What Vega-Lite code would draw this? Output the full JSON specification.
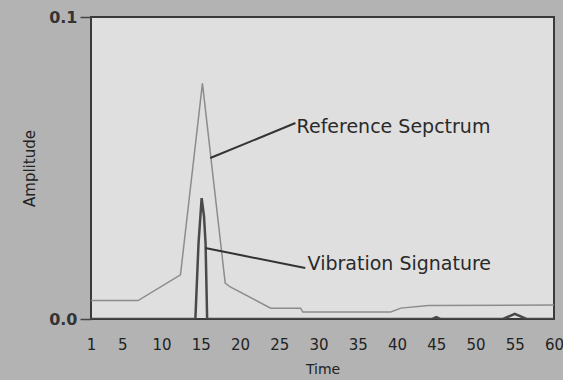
{
  "$schema": "https://vega.github.io/schema/vega-lite/v6.json",
  "width": 463,
  "height": 302,
  "autosize": {"type": "none"},
  "padding": {"left": 91, "top": 17, "right": 9, "bottom": 61},
  "background": "#b3b3b3",
  "config": {
    "view": {"fill": "#dfdfdf", "stroke": "#3a3a3a", "strokeWidth": 2},
    "font": "DejaVu Sans",
    "axis": {"grid": false, "domain": false, "labelColor": "#222222", "titleColor": "#222222", "labelFont": "DejaVu Sans", "titleFont": "DejaVu Sans", "titleFontWeight": "normal"}
  },
  "resolve": {"axis": {"x": "independent", "y": "independent"}},
  "datasets": {
    "spectra": [
      {"time": 1, "amplitude": 0.0061, "series": "Reference Sepctrum"},
      {"time": 7, "amplitude": 0.0061, "series": "Reference Sepctrum"},
      {"time": 12.4, "amplitude": 0.0146, "series": "Reference Sepctrum"},
      {"time": 15.2, "amplitude": 0.078, "series": "Reference Sepctrum"},
      {"time": 18.1, "amplitude": 0.0119, "series": "Reference Sepctrum"},
      {"time": 18.75, "amplitude": 0.0106, "series": "Reference Sepctrum"},
      {"time": 23.9, "amplitude": 0.0036, "series": "Reference Sepctrum"},
      {"time": 27.7, "amplitude": 0.0036, "series": "Reference Sepctrum"},
      {"time": 28, "amplitude": 0.0023, "series": "Reference Sepctrum"},
      {"time": 39.2, "amplitude": 0.0023, "series": "Reference Sepctrum"},
      {"time": 40.5, "amplitude": 0.0036, "series": "Reference Sepctrum"},
      {"time": 44, "amplitude": 0.0045, "series": "Reference Sepctrum"},
      {"time": 60, "amplitude": 0.0046, "series": "Reference Sepctrum"},
      {"time": 1, "amplitude": 0, "series": "Vibration Signature"},
      {"time": 14.3, "amplitude": 0, "series": "Vibration Signature"},
      {"time": 14.7, "amplitude": 0.025, "series": "Vibration Signature"},
      {"time": 15.1, "amplitude": 0.04, "series": "Vibration Signature"},
      {"time": 15.4, "amplitude": 0.034, "series": "Vibration Signature"},
      {"time": 15.6, "amplitude": 0.025, "series": "Vibration Signature"},
      {"time": 15.8, "amplitude": 0, "series": "Vibration Signature"},
      {"time": 44.5, "amplitude": 0, "series": "Vibration Signature"},
      {"time": 45, "amplitude": 0.0006, "series": "Vibration Signature"},
      {"time": 45.5, "amplitude": 0, "series": "Vibration Signature"},
      {"time": 53.5, "amplitude": 0, "series": "Vibration Signature"},
      {"time": 55, "amplitude": 0.0017, "series": "Vibration Signature"},
      {"time": 56.5, "amplitude": 0, "series": "Vibration Signature"},
      {"time": 60, "amplitude": 0, "series": "Vibration Signature"}
    ],
    "notes": [
      {"label": "Reference Sepctrum", "x1": 16.2, "y1": 0.0533, "x2": 27.05, "y2": 0.0649, "tx": 27.2, "ty": 0.0636},
      {"label": "Vibration Signature", "x1": 15.56, "y1": 0.0235, "x2": 28.3, "y2": 0.0169, "tx": 28.6, "ty": 0.0182}
    ]
  },
  "layer": [
    {
      "data": {"name": "spectra"},
      "mark": {"type": "line", "clip": true},
      "encoding": {
        "x": {"field": "time", "type": "quantitative", "scale": {"domain": [1, 60], "nice": false, "zero": false},
          "axis": {"values": [1, 5, 10, 15, 20, 25, 30, 35, 40, 45, 50, 55, 60], "labelOverlap": false, "labelBound": false, "labelFlush": false, "ticks": false, "labelPadding": 18, "labelFontSize": 15, "title": "Time", "titleFontSize": 14, "titlePadding": 10}},
        "y": {"field": "amplitude", "type": "quantitative", "scale": {"domain": [0, 0.1], "nice": false},
          "axis": {"values": [0, 0.1], "format": ".1f", "tickSize": 11, "tickColor": "#444", "tickWidth": 1.5, "labelPadding": 3, "labelFontSize": 16, "labelFontWeight": "bold", "labelColor": "#333333", "title": "Amplitude", "titleFontSize": 15, "titlePadding": 11}},
        "color": {"field": "series", "type": "nominal", "scale": {"domain": ["Reference Sepctrum", "Vibration Signature"], "range": ["#8c8c8c", "#4a4a4a"]}, "legend": null},
        "strokeWidth": {"field": "series", "type": "nominal", "scale": {"domain": ["Reference Sepctrum", "Vibration Signature"], "range": [1.5, 2.5]}, "legend": null}
      }
    },
    {
      "data": {"name": "notes"},
      "mark": {"type": "rule", "color": "#333333", "strokeWidth": 2},
      "encoding": {
        "x": {"field": "x1", "type": "quantitative", "axis": null},
        "y": {"field": "y1", "type": "quantitative", "axis": null},
        "x2": {"field": "x2"},
        "y2": {"field": "y2"}
      }
    },
    {
      "data": {"name": "notes"},
      "mark": {"type": "text", "align": "left", "baseline": "middle", "fontSize": 19, "color": "#2a2a2a", "font": "DejaVu Sans"},
      "encoding": {
        "x": {"field": "tx", "type": "quantitative", "axis": null},
        "y": {"field": "ty", "type": "quantitative", "axis": null},
        "text": {"field": "label"}
      }
    }
  ]
}
